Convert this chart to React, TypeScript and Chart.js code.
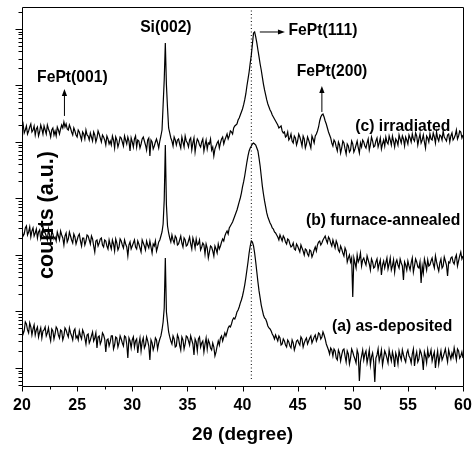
import React, { useEffect, useRef } from 'react';
import { Chart, registerables } from 'chart.js';

Chart.register(...registerables);

// 2θ grid of the scans (degrees): 20.0 … 60.0
const ANGLE_START = 20;
const ANGLE_STEP = 0.1;

// (a) as-deposited — counts (log axis), one row per degree
const asDeposited = [
  55.4, 40.0, 45.2, 65.2, 60.1, 47.1, 41.7, 62.6, 53.2, 38.4,
  49.0, 57.7, 38.4, 47.1, 53.2, 35.4, 43.4, 51.1, 34.0, 45.2,
  47.1, 53.2, 36.9, 41.7, 51.1, 36.9, 30.1, 49.0, 45.2, 32.6,
  40.0, 53.2, 49.0, 38.4, 34.0, 47.1, 45.2, 31.3, 36.9, 51.1,
  47.1, 40.0, 35.4, 51.1, 41.7, 36.9, 31.3, 45.2, 49.0, 34.0,
  36.9, 31.3, 45.2, 36.9, 32.6, 47.1, 41.7, 34.0, 26.6, 38.4,
  40.0, 27.7, 31.3, 36.9, 43.4, 30.1, 34.0, 41.7, 22.6, 35.4,
  36.9, 26.6, 30.1, 41.7, 38.4, 32.6, 19.2, 31.3, 32.6, 24.5,
  28.9, 36.9, 36.9, 21.7, 25.5, 35.4, 34.0, 23.5, 27.7, 36.9,
  32.6, 27.7, 24.5, 36.9, 35.4, 26.6, 15.0, 34.0, 30.1, 22.6,
  31.3, 35.4, 23.5, 30.1, 32.6, 18.4, 26.6, 34.0, 20.0, 28.9,
  34.0, 22.6, 25.5, 35.4, 30.1, 24.5, 13.9, 31.3, 27.7, 20.8,
  24.5, 34.0, 31.3, 21.7, 27.7, 32.6, 36.9, 47.1, 65.2, 115,
  885, 98.1, 65.2, 43.4, 35.4, 30.1, 26.6, 36.9, 32.6, 23.5,
  24.5, 38.4, 34.0, 25.5, 20.8, 35.4, 31.3, 21.7, 26.6, 36.9,
  35.4, 30.1, 25.5, 36.9, 31.3, 26.6, 17.0, 32.6, 28.9, 20.0,
  32.6, 35.4, 23.5, 27.7, 30.1, 19.2, 26.6, 34.0, 21.7, 31.3,
  27.7, 22.6, 20.8, 27.7, 23.5, 16.3, 19.2, 24.5, 30.1, 25.5,
  34.0, 36.9, 30.1, 35.4, 41.7, 36.9, 43.4, 51.1, 55.4, 53.2,
  60.1, 70.8, 76.8, 73.7, 83.3, 98.1, 106, 120, 141, 160,
  188, 231, 294, 392, 543, 752, 1085, 1443, 1769, 1700,
  1443, 1085, 752, 500, 333, 231, 174, 130, 106, 86.7,
  76.8, 73.7, 65.2, 55.4, 51.1, 49.0, 45.2, 40.0, 36.9, 32.6,
  38.4, 34.0, 30.1, 36.9, 34.0, 25.5, 26.6, 32.6, 30.1, 25.5,
  23.5, 31.3, 28.9, 24.5, 22.6, 31.3, 27.7, 20.8, 24.5, 30.1,
  31.3, 27.7, 25.5, 35.4, 32.6, 23.5, 27.7, 31.3, 34.0, 26.6,
  30.1, 34.0, 36.9, 27.7, 31.3, 35.4, 38.4, 30.1, 34.0, 41.7,
  40.0, 32.6, 35.4, 43.4, 38.4, 32.6, 26.6, 23.5, 20.8, 17.7,
  22.6, 20.8, 16.3, 21.7, 20.0, 15.0, 13.9, 20.8, 18.4, 13.3,
  17.0, 20.8, 21.7, 16.3, 12.8, 20.0, 17.7, 11.8, 15.0, 21.7,
  19.2, 16.3, 14.4, 12.3, 20.8, 17.7, 5.9, 12.8, 16.3, 20.8,
  13.9, 17.7, 20.0, 12.3, 15.7, 20.8, 11.3, 15.7, 18.4, 12.8,
  5.65, 15.0, 17.0, 21.7, 13.3, 16.3, 20.8, 11.3, 15.0, 20.0,
  17.7, 15.0, 12.3, 20.8, 16.3, 13.3, 19.2, 15.7, 10.4, 18.4,
  15.7, 11.8, 20.0, 16.3, 13.9, 20.8, 17.0, 14.4, 12.8, 18.4,
  20.8, 16.3, 15.0, 12.3, 17.7, 21.7, 10.9, 15.7, 19.2, 12.8,
  14.4, 20.8, 18.4, 15.0, 9.2, 19.2, 16.3, 12.3, 20.8, 15.7,
  17.0, 20.8, 13.3, 16.3, 19.2, 10.0, 15.0, 20.0, 11.8, 15.7,
  20.0, 13.9, 15.7, 18.4, 21.7, 16.3, 12.8, 20.8, 17.0, 14.4,
  18.4, 15.7, 22.6, 17.7, 13.9, 21.7, 20.0, 15.0, 16.3, 19.2,
  15.0,
];

// (b) furnace-annealed
const furnaceAnnealed = [
  2886, 2169, 2354, 3005, 3261, 2259, 2553, 3131, 2083, 2659,
  3005, 2169, 2451, 2886, 1999, 2553, 2770, 1919, 2259, 3131,
  2659, 2451, 2169, 1843, 2886, 2259, 1699, 2659, 2354, 1919,
  2083, 1769, 2553, 2169, 1843, 2659, 2259, 1999, 1503, 2169,
  2451, 1699, 1919, 2553, 2169, 1843, 1630, 2354, 2083, 1566,
  1843, 2169, 2354, 1769, 1443, 1999, 1999, 1503, 1769, 2259,
  2169, 1843, 1566, 2169, 1919, 1443, 1130, 1769, 1843, 1443,
  1630, 1919, 1999, 1503, 1385, 1843, 1769, 1443, 1277, 1843,
  1503, 1277, 1843, 1566, 1177, 1919, 1630, 1226, 1385, 1919,
  1769, 1503, 1330, 1843, 1566, 1385, 961, 1503, 1699, 1277,
  1443, 1630, 1843, 1385, 1277, 1769, 1566, 1330, 1130, 1843,
  1630, 1443, 1226, 1769, 1503, 1330, 1769, 1385, 1085, 1566,
  1443, 1769, 1177, 1385, 1699, 1843, 2169, 2553, 3538, 9416,
  88500, 7679, 3261, 2451, 1999, 1699, 2259, 1843, 1630, 2169,
  1999, 1503, 1566, 1843, 2169, 1630, 1385, 1999, 1843, 1443,
  1503, 1769, 2083, 1566, 1277, 1999, 1699, 1330, 1919, 1503,
  1566, 1843, 1226, 1385, 1630, 1503, 1041, 1566, 1330, 885,
  1130, 1443, 1385, 1177, 961, 1443, 1277, 1085, 1566, 1277,
  1443, 1699, 1919, 1769, 2169, 2451, 2659, 2354, 3005, 3261,
  3538, 3839, 4338, 4903, 5541, 6262, 7372, 8679, 10200, 12500,
  16000, 19600, 25000, 33300, 44200, 56600, 69300, 78300, 85000, 92200,
  96000, 92200, 88500, 78300, 69300, 52000, 37600, 25000, 16600, 12000,
  9040, 7078, 5541, 4707, 4165, 3685, 3397, 3005, 2886, 2553,
  2451, 2259, 2083, 1843, 2259, 1999, 1769, 2169, 1999, 1699,
  1566, 1919, 1843, 1566, 1385, 1443, 1630, 1277, 1226, 1566,
  1443, 1277, 1130, 1503, 1330, 1177, 1000, 1277, 1226, 1041,
  961, 1226, 1177, 922, 1041, 1226, 1385, 1177, 1503, 1699,
  1769, 1503, 1630, 1843, 1999, 2169, 1843, 1630, 2083, 1919,
  1630, 1443, 1843, 1566, 1330, 1769, 1566, 1226, 1130, 1443,
  1277, 1085, 961, 1330, 1177, 752, 885, 1000, 752, 885,
  180, 885, 722, 589, 1000, 752, 850, 1085, 639, 816,
  885, 752, 665, 961, 816, 693, 543, 850, 752, 589,
  613, 752, 850, 565, 693, 816, 442, 665, 783, 589,
  722, 885, 565, 693, 885, 543, 639, 816, 500, 722,
  816, 665, 589, 850, 722, 639, 361, 752, 665, 543,
  783, 639, 543, 722, 885, 500, 639, 850, 752, 613,
  589, 752, 320, 639, 480, 850, 693, 543, 816, 639,
  665, 783, 885, 693, 589, 961, 752, 613, 521, 722,
  850, 589, 639, 922, 783, 665, 425, 752, 722, 885,
  922, 752, 693, 885, 1000, 639, 783, 961, 1130, 850,
  961,
];

// (c) irradiated
const irradiated = [
  176900, 208300, 144300, 163000, 191900, 138500, 156600, 184300, 208300, 150300,
  163000, 191900, 133000, 169900, 184300, 127700, 150300, 199900, 169900, 138500,
  191900, 163000, 138500, 199900, 169900, 150300, 122600, 163000, 176900, 133000,
  156600, 127700, 184300, 163000, 138500, 169900, 199900, 176900, 225900, 184300,
  208300, 169900, 163000, 199900, 176900, 150300, 133000, 176900, 156600, 133000,
  122600, 163000, 150300, 127700, 108500, 150300, 138500, 113000, 163000, 133000,
  127700, 108500, 144300, 122600, 104100, 150300, 133000, 100000, 117700, 156600,
  138500, 117700, 100000, 133000, 122600, 108500, 88500, 127700, 113000, 92200,
  104100, 88500, 127700, 108500, 78300, 122600, 108500, 81600, 96100, 122600,
  117700, 100000, 85000, 127700, 108500, 92200, 122600, 104100, 69300, 117700,
  100000, 81600, 113000, 127700, 81600, 108500, 104100, 78300, 92200, 113000,
  122600, 104100, 88500, 72200, 108500, 117700, 56500, 108500, 100000, 75200,
  85000, 100000, 113000, 96100, 78300, 104100, 127700, 163000, 452000, 1250000,
  5660000, 1020000, 400000, 176900, 144300, 117700, 104100, 85000, 122600, 108500,
  88500, 108500, 113000, 92200, 78300, 122600, 100000, 81600, 127700, 104100,
  96100, 81600, 108500, 117700, 72200, 96100, 117700, 66600, 92200, 113000,
  104100, 88500, 81600, 100000, 113000, 69300, 88500, 108500, 75200, 96100,
  92200, 113000, 72200, 81600, 56500, 75200, 85000, 96100, 104100, 78300,
  96100, 113000, 122600, 92200, 108500, 122600, 138500, 113000, 127700, 156600,
  150300, 138500, 176900, 191900, 199900, 208300, 245100, 266000, 300500, 339700,
  383900, 452000, 554100, 708000, 980800, 1300000, 1734000, 2500000, 3470000, 5430000,
  8500000, 8850000, 7220000, 5660000, 4250000, 3200000, 2400000, 1880000, 1410000, 1060000,
  833200, 680000, 554100, 471000, 416500, 368500, 339700, 300500, 277000, 255000,
  235400, 217000, 199900, 176900, 184300, 191900, 156600, 144300, 150300, 122600,
  127700, 150300, 108500, 117700, 138500, 104100, 96100, 127700, 117700, 88500,
  104100, 138500, 122600, 104100, 85000, 127700, 113000, 78300, 92200, 122600,
  108500, 92200, 78300, 127700, 113000, 96100, 127700, 138500, 156600, 184300,
  235400, 277000, 300500, 313000, 277000, 235400, 208300, 176900, 150300, 133000,
  117700, 96100, 85000, 108500, 100000, 81600, 69300, 100000, 88500, 63900,
  78300, 104100, 96100, 75200, 61300, 92200, 85000, 66600, 72200, 104100,
  92200, 66600, 75200, 88500, 104100, 78300, 63900, 96100, 81600, 108500,
  100000, 85000, 78300, 96100, 113000, 72200, 88500, 122600, 104100, 81600,
  85000, 104100, 117700, 81600, 96100, 117700, 75200, 92200, 108500, 85000,
  122600, 100000, 92200, 127700, 108500, 88500, 127700, 104100, 81600, 113000,
  104100, 88500, 133000, 113000, 96100, 127700, 113000, 85000, 122600, 108500,
  92200, 133000, 117700, 100000, 138500, 113000, 104100, 144300, 127700, 88500,
  113000, 138500, 96100, 108500, 133000, 100000, 78300, 127700, 117700, 100000,
  138500, 113000, 108500, 144300, 122600, 96100, 150300, 117700, 104100, 133000,
  127700, 108500, 156600, 122600, 113000, 104100, 133000, 138500, 100000, 127700,
  144300, 108500, 117700, 133000, 163000, 113000, 127700, 156600, 150300, 117700,
  133000,
];

// axes
const X_MIN = 20;
const X_MAX = 60;
const X_STEP = 2.5;
const X_LABEL_EVERY = 5;
const Y_MIN = 4.8;
const Y_MAX = 2.45e7;
const Y_DECADES = [0, 1, 2, 3, 4, 5, 6, 7];
const Y_MANTISSAS = [1, 2, 3, 4, 5, 6, 7, 8, 9];

// dotted reference line
const REF_ANGLE = 40.8;
const REF_BOTTOM = 6.1;

// texts
const X_TITLE = '2\u03b8 (degree)';
const Y_TITLE = 'counts (a.u.)';
const Y_TITLE_POS = { x: 22.25, y: 5107 };

const peakLabels = [
  { text: 'Si(002)', x: 33.05, y: 1.04e7, align: 'center' },
  { text: 'FePt(001)', x: 24.57, y: 1.36e6, align: 'center' },
  { text: 'FePt(111)', x: 47.3, y: 9.2e6, align: 'center' },
  { text: 'FePt(200)', x: 48.12, y: 1.734e6, align: 'center' },
  { text: '(c) irradiated', x: 58.85, y: 1.84e5, align: 'right' },
  { text: '(b) furnace-annealed', x: 59.75, y: 4000, align: 'right' },
  { text: '(a) as-deposited', x: 59.03, y: 53.2, align: 'right' },
];

const arrows = [
  { x1: 23.85, y1: 2.89e5, x2: 23.85, y2: 8.68e5 },
  { x1: 47.2, y1: 3.4e5, x2: 47.2, y2: 9.8e5 },
  { x1: 41.57, y1: 8.85e6, x2: 43.85, y2: 8.85e6 },
];

const FONT = '"Liberation Sans", Arial, Helvetica, sans-serif';

const toPoints = (series: number[]) =>
  series.map((v, i) => ({ x: ANGLE_START + i * ANGLE_STEP, y: v }));

const decorPlugin = {
  id: 'decor',
  afterDatasetsDraw(chart: any) {
    const { ctx, chartArea: a, scales } = chart;
    const xs = scales.x;
    const ys = scales.y;
    ctx.save();
    ctx.strokeStyle = '#000';
    ctx.fillStyle = '#000';
    ctx.lineWidth = 1;
    const L = Math.round(a.left) + 0.5;
    const R = Math.round(a.right) + 0.5;
    const T = Math.round(a.top) + 0.5;
    const B = Math.round(a.bottom) + 0.5;
    ctx.beginPath();
    ctx.moveTo(L, T);
    ctx.lineTo(R, T);
    ctx.lineTo(R, B);
    ctx.lineTo(L, B);
    ctx.closePath();
    ctx.stroke();

    // x ticks (outward)
    ctx.beginPath();
    for (const t of xs.ticks) {
      const px = Math.round(xs.getPixelForValue(t.value)) + 0.5;
      const len = Math.abs(t.value % X_LABEL_EVERY) < 1e-9 ? 5 : 3;
      ctx.moveTo(px, B);
      ctx.lineTo(px, B + len);
    }
    // y ticks (outward)
    for (const t of ys.ticks) {
      const py = Math.round(ys.getPixelForValue(t.value)) + 0.5;
      const lg = Math.log10(t.value);
      const major = Math.abs(lg - Math.round(lg)) < 1e-9;
      const len = major ? 7 : 4;
      ctx.moveTo(L - len, py);
      ctx.lineTo(L, py);
    }
    ctx.stroke();

    // arrows
    for (const ar of arrows) {
      const x1 = xs.getPixelForValue(ar.x1);
      const y1 = ys.getPixelForValue(ar.y1);
      const x2 = xs.getPixelForValue(ar.x2);
      const y2 = ys.getPixelForValue(ar.y2);
      const ang = Math.atan2(y2 - y1, x2 - x1);
      const head = 7;
      const hw = 2.6;
      const bx = x2 - head * Math.cos(ang);
      const by = y2 - head * Math.sin(ang);
      ctx.beginPath();
      ctx.moveTo(x1, y1);
      ctx.lineTo(bx, by);
      ctx.stroke();
      ctx.beginPath();
      ctx.moveTo(x2, y2);
      ctx.lineTo(bx + hw * Math.sin(ang), by - hw * Math.cos(ang));
      ctx.lineTo(bx - hw * Math.sin(ang), by + hw * Math.cos(ang));
      ctx.closePath();
      ctx.fill();
    }

    // labels
    ctx.font = `bold 15.7px ${FONT}`;
    ctx.textBaseline = 'middle';
    for (const lb of peakLabels) {
      ctx.textAlign = lb.align;
      ctx.fillText(lb.text, xs.getPixelForValue(lb.x), ys.getPixelForValue(lb.y));
    }

    // y title (inside plot, rotated)
    ctx.save();
    ctx.translate(xs.getPixelForValue(Y_TITLE_POS.x), ys.getPixelForValue(Y_TITLE_POS.y));
    ctx.rotate(-Math.PI / 2);
    ctx.textAlign = 'center';
    ctx.textBaseline = 'middle';
    ctx.font = `bold 21.5px ${FONT}`;
    ctx.fillText(Y_TITLE, 0, 0);
    ctx.restore();

    ctx.restore();
  },
};

export default function App() {
  const ref = useRef<HTMLCanvasElement | null>(null);

  useEffect(() => {
    if (!ref.current) return;
    const lineStyle = {
      borderColor: '#000',
      borderWidth: 1.2,
      pointRadius: 0,
      tension: 0,
      fill: false,
    };
    const chart = new Chart(ref.current, {
      type: 'line',
      data: {
        datasets: [
          { label: '(a) as-deposited', data: toPoints(asDeposited), ...lineStyle },
          { label: '(b) furnace-annealed', data: toPoints(furnaceAnnealed), ...lineStyle },
          { label: '(c) irradiated', data: toPoints(irradiated), ...lineStyle },
          {
            label: 'ref',
            data: [
              { x: REF_ANGLE, y: Y_MAX },
              { x: REF_ANGLE, y: REF_BOTTOM },
            ],
            borderColor: '#000',
            borderWidth: 1,
            borderDash: [1, 2.5],
            pointRadius: 0,
            fill: false,
          },
        ],
      },
      options: {
        responsive: false,
        animation: false,
        devicePixelRatio: 1,
        layout: { padding: { left: 0, right: 10, top: 7, bottom: 0 } },
        plugins: {
          legend: { display: false },
          tooltip: { enabled: false },
          title: { display: false },
        },
        scales: {
          x: {
            type: 'linear',
            min: X_MIN,
            max: X_MAX,
            grid: { display: false, drawTicks: false },
            border: { display: false },
            ticks: {
              stepSize: X_STEP,
              autoSkip: false,
              maxRotation: 0,
              padding: 10,
              color: '#000',
              font: { family: FONT, size: 16, weight: 'bold' },
              callback: (v: any) => (Math.abs(Number(v) % X_LABEL_EVERY) < 1e-9 ? String(v) : ''),
            },
            title: {
              display: true,
              text: X_TITLE,
              color: '#000',
              font: { family: FONT, size: 19, weight: 'bold' },
              padding: { top: 0, bottom: 7.6 },
            },
            afterFit: (s: any) => {
              s.height = 68;
              s.paddingLeft = 0;
              s.paddingRight = 0;
            },
          },
          y: {
            type: 'logarithmic',
            min: Y_MIN,
            max: Y_MAX,
            grid: { display: false, drawTicks: false },
            border: { display: false },
            ticks: { display: false },
            afterBuildTicks: (s: any) => {
              const list: { value: number }[] = [];
              for (const d of Y_DECADES) {
                for (const m of Y_MANTISSAS) {
                  const v = m * Math.pow(10, d);
                  if (v >= Y_MIN && v <= Y_MAX) list.push({ value: v });
                }
              }
              s.ticks = list;
            },
            afterFit: (s: any) => {
              s.width = 22;
              s.paddingTop = 0;
              s.paddingBottom = 0;
            },
          },
        },
      },
      plugins: [decorPlugin],
    });
    return () => chart.destroy();
  }, []);

  return (
    <div style={{ position: 'fixed', left: 0, top: 0, width: 473, height: 454, background: '#fff' }}>
      <canvas ref={ref} width={473} height={454} />
    </div>
  );
}
